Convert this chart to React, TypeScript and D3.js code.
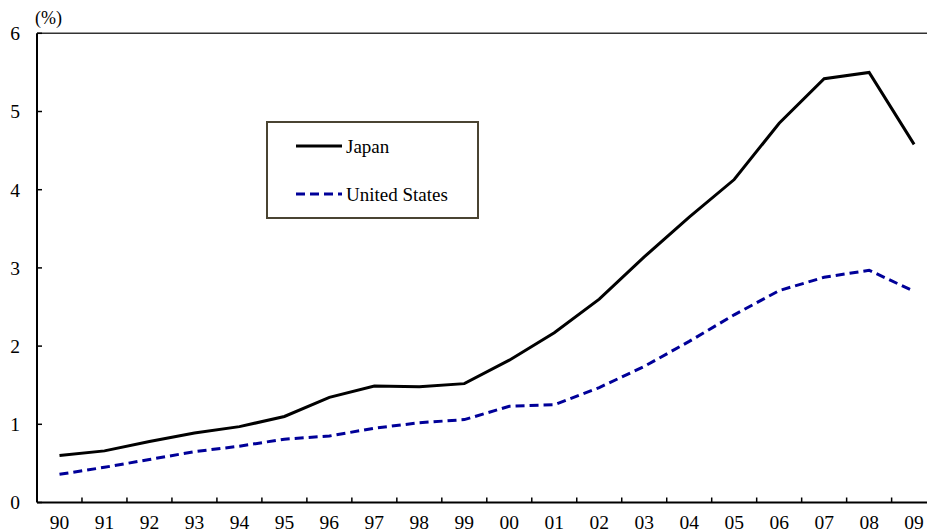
import React from "react";
import * as d3 from "d3";

const years = ["90","91","92","93","94","95","96","97","98","99","00","01","02","03","04","05","06","07","08","09"];
const japan = [0.6,0.66,0.78,0.89,0.97,1.1,1.345,1.49,1.48,1.52,1.82,2.17,2.6,3.14,3.65,4.13,4.85,5.42,5.5,4.58];
const usa = [0.36,0.45,0.55,0.65,0.72,0.81,0.85,0.95,1.02,1.06,1.23,1.25,1.47,1.74,2.06,2.4,2.71,2.88,2.97,2.7];
const yTicks = [0,1,2,3,4,5,6];
const seriesNames = ["Japan","United States"];

const W = 927, H = 532;
const left = 37, top = 33.3, bottom = 502.5;
const step = 44.98;

export default function App() {
  const x = d3.scaleBand<string>().domain(years).range([left, left + step * years.length]);
  const y = d3.scaleLinear().domain([0, 6]).range([bottom, top]);
  const cx = (d: string) => (x(d) as number) + x.bandwidth() / 2;
  const line = d3.line<number>().x((_, i) => cx(years[i])).y(v => y(v));
  const ts: React.CSSProperties = { fontFamily: '"Liberation Serif", "Times New Roman", serif' };
  const right = left + step * years.length;
  return (
    <div style={{ position: "absolute", left: 0, top: 0 }}>
      <svg width={W} height={H} style={{ display: "block", background: "#fff" }}>
        <line x1={left} x2={right} y1={top} y2={top} stroke="#333" strokeWidth={1.5} />
        <line x1={left} x2={left} y1={top} y2={bottom} stroke="#000" strokeWidth={2} />
        {yTicks.map(t => (
          <g key={t}>
            <line x1={left} x2={left + 5} y1={y(t)} y2={y(t)} stroke="#000" strokeWidth={1.5} />
            <text x={20} y={y(t)} dy="0.35em" textAnchor="end" fontSize={19.5} style={ts}>{t}</text>
          </g>
        ))}
        <text x={35} y={24} fontSize={18} style={ts}>(%)</text>
        <line x1={left} x2={right} y1={bottom} y2={bottom} stroke="#000" strokeWidth={2} />
        {years.slice(1).map(d => (
          <line key={d} x1={x(d) as number} x2={x(d) as number} y1={bottom} y2={bottom - 5} stroke="#000" strokeWidth={1.5} />
        ))}
        {years.map(d => (
          <text key={d} x={cx(d)} y={529} textAnchor="middle" fontSize={19.5} style={ts}>{d}</text>
        ))}
        <path d={line(usa) || ""} fill="none" stroke="#000099" strokeWidth={3} strokeDasharray="9,5" />
        <path d={line(japan) || ""} fill="none" stroke="#000" strokeWidth={3} strokeLinejoin="miter" />
        <rect x={267} y={122} width={211} height={96} fill="#fff" stroke="#4a4432" strokeWidth={2} />
        <line x1={296} x2={342} y1={146} y2={146} stroke="#000" strokeWidth={3} />
        <text x={346} y={146} dy="0.35em" fontSize={19} style={ts}>{seriesNames[0]}</text>
        <line x1={296} x2={342} y1={194} y2={194} stroke="#000099" strokeWidth={3} strokeDasharray="9,5" />
        <text x={346} y={194} dy="0.35em" fontSize={19} style={ts}>{seriesNames[1]}</text>
      </svg>
    </div>
  );
}
